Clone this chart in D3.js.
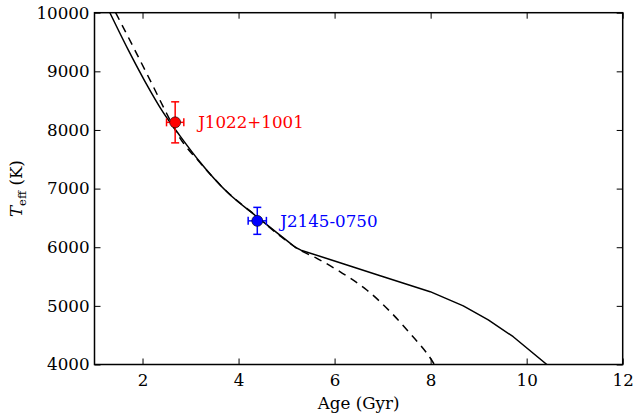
<!DOCTYPE html>
<html>
<head>
<meta charset="utf-8">
<script src="https://cdn.jsdelivr.net/npm/d3@7"></script>
<style>
  html, body { margin: 0; padding: 0; background: #fff; }
  text { font-family: "DejaVu Serif", serif; }
</style>
</head>
<body>
<svg id="chart" width="636" height="415"></svg>
<script>
// Cooling track, solid model: age (Gyr) and effective temperature (K).
// The smooth hot branch ends at the break near 6000 K; the cool branch follows.
const solidHotAge   = [1.32, 1.70, 2.05, 2.43, 2.78, 3.20, 3.75, 4.38, 5.18];
const solidHotTeff  = [10000, 9370, 8830, 8300, 7900, 7450, 6950, 6521, 6000];
const solidCoolAge  = [5.18, 5.30, 6.00, 6.95, 7.99, 8.68, 9.20, 9.72, 10.42];
const solidCoolTeff = [6000, 5950, 5765, 5515, 5242, 5000, 4760, 4474, 4000];

// Cooling track, dashed model
const dashAge  = [1.44, 1.84, 2.19, 2.50, 2.75, 3.20, 3.75, 4.38, 4.90, 5.30, 5.63, 6.11, 6.67, 7.16, 7.57, 8.02, 8.08];
const dashTeff = [10000, 9364, 8796, 8285, 7900, 7440, 6955, 6525, 6170, 5940, 5811, 5583, 5271, 4900, 4532, 4077, 4000];

// Observed white dwarfs
const starNames  = ["J1022+1001", "J2145-0750"];
const starAge    = [2.68, 4.39];
const starAgeErr = [0.18, 0.19];
const starTeff   = [8130, 6450];
const starTeffErr = [350, 230];
const starColors = ["#ff0000", "#0000ff"];

// Axis ticks
const xTicks = [2, 4, 6, 8, 10, 12];
const yTicks = [4000, 5000, 6000, 7000, 8000, 9000, 10000];

const svg = d3.select("#chart");
const L = 94.5, R = 622.7, T = 12.7, B = 364.5;

const x = d3.scaleLinear().domain([1, 12]).range([L, R]);
const y = d3.scaleLinear().domain([4000, 10000]).range([B, T]);

svg.append("defs").append("clipPath").attr("id", "plotclip")
  .append("rect").attr("x", L).attr("y", T).attr("width", R - L).attr("height", B - T);

const plot = svg.append("g").attr("clip-path", "url(#plotclip)");

const smooth = d3.line().x(d => x(d[0])).y(d => y(d[1])).curve(d3.curveMonotoneX);
const straight = d3.line().x(d => x(d[0])).y(d => y(d[1]));
const pairs = (a, t) => a.map((v, i) => [v, t[i]]);

plot.append("path")
  .attr("d", smooth(pairs(solidHotAge, solidHotTeff)) + straight(pairs(solidCoolAge, solidCoolTeff)).replace(/^M/, "L"))
  .attr("fill", "none").attr("stroke", "#000").attr("stroke-width", 1.5).attr("stroke-linejoin", "round");

plot.append("path")
  .attr("d", smooth(pairs(dashAge, dashTeff)))
  .attr("fill", "none").attr("stroke", "#000").attr("stroke-width", 1.5)
  .attr("stroke-dasharray", "8,6");

// Error bars, markers and labels
starNames.forEach((name, i) => {
  const g = svg.append("g").attr("stroke", starColors[i]).attr("stroke-width", 1.5);
  const cx = x(starAge[i]), cy = y(starTeff[i]);
  const x0 = x(starAge[i] - starAgeErr[i]), x1 = x(starAge[i] + starAgeErr[i]);
  const y0 = y(starTeff[i] - starTeffErr[i]), y1 = y(starTeff[i] + starTeffErr[i]);
  const cap = 4;
  g.append("line").attr("x1", cx).attr("x2", cx).attr("y1", y0).attr("y2", y1);
  g.append("line").attr("x1", cx - cap).attr("x2", cx + cap).attr("y1", y0).attr("y2", y0);
  g.append("line").attr("x1", cx - cap).attr("x2", cx + cap).attr("y1", y1).attr("y2", y1);
  g.append("line").attr("x1", x0).attr("x2", x1).attr("y1", cy).attr("y2", cy);
  g.append("line").attr("x1", x0).attr("x2", x0).attr("y1", cy - cap).attr("y2", cy + cap);
  g.append("line").attr("x1", x1).attr("x2", x1).attr("y1", cy - cap).attr("y2", cy + cap);
  svg.append("circle").attr("cx", cx).attr("cy", cy).attr("r", 5.5)
    .attr("fill", starColors[i]).attr("stroke", "#000").attr("stroke-width", 0.6);
  svg.append("text").attr("x", cx + 23).attr("y", cy + 6)
    .attr("fill", starColors[i]).attr("font-size", "16.7px").text(name);
});

// Axes: inward ticks on all four sides
const tickLen = 6;
const axes = svg.append("g");
axes.append("g").attr("transform", `translate(0,${B})`)
  .call(d3.axisBottom(x).tickValues(xTicks).tickSize(-tickLen).tickPadding(10).tickFormat(d3.format("d")));
axes.append("g").attr("transform", `translate(0,${T})`)
  .call(d3.axisTop(x).tickValues(xTicks).tickSize(-tickLen).tickFormat(""));
axes.append("g").attr("transform", `translate(${L},0)`)
  .call(d3.axisLeft(y).tickValues(yTicks).tickSize(-tickLen).tickPadding(5).tickFormat(d3.format("d")));
axes.append("g").attr("transform", `translate(${R},0)`)
  .call(d3.axisRight(y).tickValues(yTicks).tickSize(-tickLen).tickFormat(""));

axes.selectAll(".domain").remove();
axes.selectAll(".tick line").attr("stroke", "#000").attr("stroke-width", 1);
axes.selectAll(".tick text").attr("font-family", "DejaVu Serif").attr("font-size", "16.7px").attr("fill", "#000");

svg.append("rect").attr("x", L).attr("y", T).attr("width", R - L).attr("height", B - T)
  .attr("fill", "none").attr("stroke", "#000").attr("stroke-width", 1.5);

// Axis titles
svg.append("text").attr("x", (L + R) / 2).attr("y", 409).attr("text-anchor", "middle")
  .attr("font-size", "16.7px").text("Age (Gyr)");

const yl = svg.append("text").attr("transform", `translate(22,${(T + B) / 2}) rotate(-90)`)
  .attr("text-anchor", "middle").attr("font-size", "16.7px");
yl.append("tspan").attr("font-style", "italic").text("T");
yl.append("tspan").attr("font-size", "11.5px").attr("dy", 4).text("eff");
yl.append("tspan").attr("dy", -4).text(" (K)");
</script>
</body>
</html>
